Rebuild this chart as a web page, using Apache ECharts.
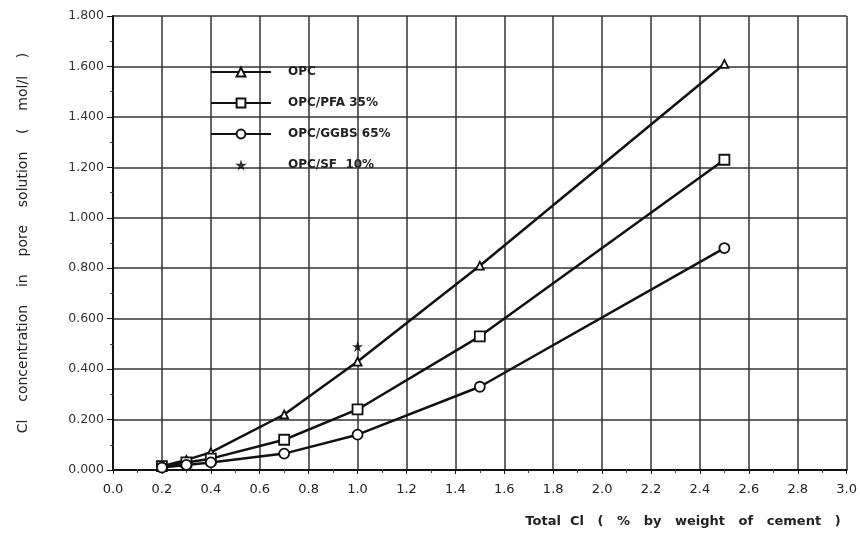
<!DOCTYPE html>
<html><head><meta charset="utf-8">
<script src="https://cdn.jsdelivr.net/npm/echarts@6/dist/echarts.min.js"></script>
<style>html,body{margin:0;padding:0;background:#fff}#c{width:860px;height:533px}</style>
</head><body><div id="c"></div>
<script>
const xOPC = [0.2, 0.3, 0.4, 0.7, 1.0, 1.5, 2.5];
const yOPC = [0.015, 0.04, 0.07, 0.22, 0.43, 0.81, 1.61];
const yPFA = [0.015, 0.03, 0.045, 0.12, 0.24, 0.53, 1.23];
const yGGBS = [0.01, 0.02, 0.03, 0.065, 0.14, 0.33, 0.88];
const xSF = [1.0];
const ySF = [0.49];
const names = ['OPC', 'OPC/PFA 35%', 'OPC/GGBS 65%', 'OPC/SF  10%'];

const STAR = 'path://M50,0 L61,35 L98,35 L68,57 L79,91 L50,70 L21,91 L32,57 L2,35 L39,35 Z';
const pair = (xs, ys) => xs.map((x, i) => [x, ys[i]]);
const lineSeries = (name, ys, symbol, size) => ({
  name, type: 'line', data: pair(xOPC, ys), symbol, symbolSize: size,
  lineStyle: { color: '#111', width: 2.5 },
  itemStyle: { color: '#fff', borderColor: '#111', borderWidth: 1.8 },
  z: 5
});

const FONT = 'DejaVu Sans, Liberation Sans, Arial, sans-serif';
const chart = echarts.init(document.getElementById('c'));
chart.setOption({
  animation: false,
  backgroundColor: '#fff',
  textStyle: { fontFamily: FONT },
  grid: { left: 113, right: 13, top: 16, bottom: 63 },
  legend: {
    orient: 'vertical', left: 205, top: 61, itemWidth: 60, itemHeight: 11, itemGap: 19,
    textStyle: { color: '#222', fontSize: 12, fontWeight: 'bold', fontFamily: FONT, padding: [0, 0, 0, 12] },
    data: [
      { name: names[0] }, { name: names[1] }, { name: names[2] }, { name: names[3] }
    ]
  },
  xAxis: {
    type: 'value', min: 0, max: 3, interval: 0.2,
    name: 'Total  Cl   (   %   by   weight   of   cement   )',
    nameLocation: 'end', nameGap: 0,
    nameTextStyle: { color: '#222', fontSize: 13, fontWeight: 'bold', fontFamily: FONT, align: 'right', verticalAlign: 'top', padding: [45, 6, 0, 0] },
    axisLine: { show: true, lineStyle: { color: '#111', width: 2 } },
    axisTick: { show: true, length: 4, lineStyle: { color: '#111' } },
    minorTick: { show: true, splitNumber: 2, length: 3, lineStyle: { color: '#444' } },
    axisLabel: { color: '#222', fontSize: 13, margin: 13, formatter: v => v.toFixed(1) },
    splitLine: { show: true, lineStyle: { color: '#333', width: 1.5 } }
  },
  yAxis: {
    type: 'value', min: 0, max: 1.8, interval: 0.2,
    name: 'Cl    concentration    in    pore    solution    (    mol/l    )',
    nameLocation: 'middle', nameGap: 83, nameRotate: 90,
    nameTextStyle: { color: '#222', fontSize: 14, fontFamily: FONT },
    axisLine: { show: true, lineStyle: { color: '#111', width: 2 } },
    axisTick: { show: true, length: 6, lineStyle: { color: '#111' } },
    minorTick: { show: true, splitNumber: 2, length: 3, lineStyle: { color: '#444' } },
    axisLabel: { color: '#333', fontSize: 12.5, margin: 9, formatter: v => v.toFixed(3) },
    splitLine: { show: true, lineStyle: { color: '#333', width: 1.5 } }
  },
  series: [
    lineSeries(names[0], yOPC, 'triangle', 8),
    lineSeries(names[1], yPFA, 'rect', 10),
    lineSeries(names[2], yGGBS, 'circle', 10),
    {
      name: names[3], type: 'scatter', data: pair(xSF, ySF), symbol: STAR, symbolSize: 11,
      itemStyle: { color: '#000' }, z: 6
    }
  ]
});
</script></body></html>
